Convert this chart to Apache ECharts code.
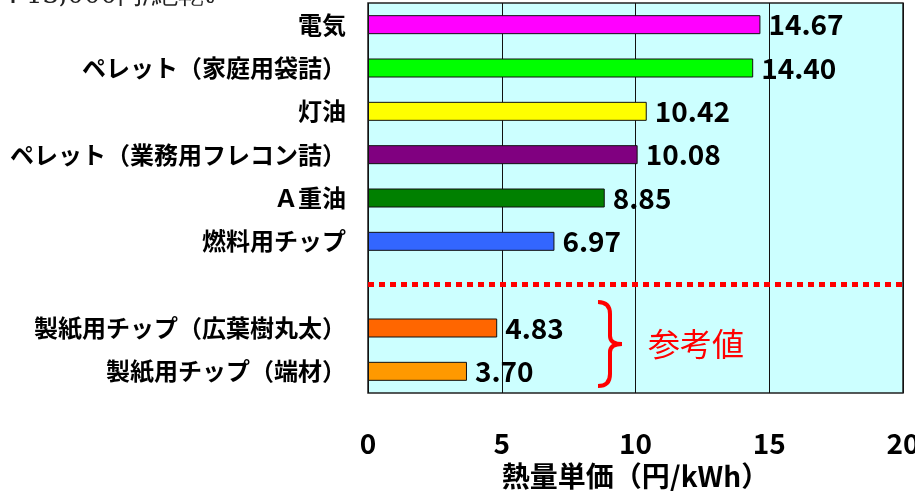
<!DOCTYPE html>
<html>
<head>
<meta charset="utf-8">
<script src="https://cdn.jsdelivr.net/npm/echarts@6/dist/echarts.min.js"></script>
<style>
  html, body { margin: 0; padding: 0; background: #fff; }
  #chart { width: 915px; height: 491px; }
</style>
</head>
<body>
<div id="chart"></div>
<script>
// categories top -> bottom, the empty one is the gap above the dotted line
var categories = ['電気', 'ペレット（家庭用袋詰）', '灯油', 'ペレット（業務用フレコン詰）',
  'Ａ重油', '燃料用チップ', '', '製紙用チップ（広葉樹丸太）', '製紙用チップ（端材）'];
var values = [14.67, 14.40, 10.42, 10.08, 8.85, 6.97, null, 4.83, 3.70];
var barColors = ['#ff00ff', '#00ff00', '#ffff00', '#800080', '#008000', '#3366ff', '#ffffff', '#ff6600', '#ff9900'];
var xTicks = [0, 5, 10, 15, 20];
var gapLine = 6.14; // dotted separator sits just below the empty row's centre

var font = '"Noto Sans CJK JP", "Noto Sans", sans-serif';
var chart = echarts.init(document.getElementById('chart'));

// red curly brace next to the reference rows
var braceStyle = { stroke: '#ff0000', lineWidth: 4, fill: 'none' };
var brace = {
  type: 'group',
  x: 598,
  y: 302,
  children: [
    { type: 'bezierCurve', shape: { x1: 0, y1: 0, cpx1: 12, cpy1: 0, x2: 12, y2: 12 }, style: braceStyle },
    { type: 'line', shape: { x1: 12, y1: 12, x2: 12, y2: 34 }, style: braceStyle },
    { type: 'bezierCurve', shape: { x1: 12, y1: 34, cpx1: 12, cpy1: 42, x2: 24, y2: 42 }, style: braceStyle },
    { type: 'bezierCurve', shape: { x1: 24, y1: 42, cpx1: 12, cpy1: 42, x2: 12, y2: 50 }, style: braceStyle },
    { type: 'line', shape: { x1: 12, y1: 50, x2: 12, y2: 72 }, style: braceStyle },
    { type: 'bezierCurve', shape: { x1: 12, y1: 72, cpx1: 12, cpy1: 84, x2: 0, y2: 84 }, style: braceStyle }
  ]
};

var option = {
  animation: false,
  backgroundColor: '#ffffff',
  grid: {
    left: 368,
    right: 12,
    top: 3,
    bottom: 98,
    outerBoundsMode: 'none',
    show: true,
    backgroundColor: '#ccffff',
    borderColor: '#222',
    borderWidth: 1.5
  },
  xAxis: {
    type: 'value',
    min: xTicks[0],
    max: xTicks[xTicks.length - 1],
    interval: 5,
    name: '熱量単価（円/kWh）',
    nameLocation: 'middle',
    nameGap: 62,
    nameTextStyle: { color: '#000', fontSize: 28, fontWeight: 'bold', fontFamily: font },
    axisLine: { show: false },
    axisTick: { show: false },
    axisLabel: { color: '#000', fontSize: 28, fontWeight: 'bold', fontFamily: font, margin: 36 },
    splitLine: { show: true, lineStyle: { color: '#111', width: 1 } }
  },
  yAxis: {
    type: 'category',
    inverse: true,
    data: categories,
    axisLine: { show: false },
    axisTick: { show: false },
    axisLabel: { color: '#000', fontSize: 24, fontWeight: 'bold', fontFamily: font, margin: 22 }
  },
  series: [{
    type: 'bar',
    barWidth: 19,
    data: values.map(function (v, i) {
      return { value: v, itemStyle: { color: barColors[i] } };
    }),
    itemStyle: { borderColor: '#111', borderWidth: 1 },
    label: {
      show: true,
      position: 'right',
      distance: 8,
      color: '#000',
      fontSize: 28,
      fontWeight: 'bold',
      fontFamily: font,
      formatter: function (p) { return p.value == null ? '' : p.value.toFixed(2); }
    },
    markLine: {
      silent: true,
      symbol: 'none',
      label: { show: false },
      lineStyle: { color: '#ff0000', width: 5, type: [6, 5] },
      data: [{ yAxis: gapLine }]
    }
  }],
  graphic: [
    {
      type: 'text',
      x: 0,
      y: -17,
      style: { text: '：13,000円/絶乾t', fill: '#222', font: '26px "DejaVu Serif", "Liberation Serif", serif' }
    },
    brace,
    {
      type: 'text',
      x: 648,
      y: 328,
      style: { text: '参考値', fill: '#ff0000', font: '32px "Noto Sans CJK JP", sans-serif' }
    }
  ]
};

chart.setOption(option);
</script>
</body>
</html>
